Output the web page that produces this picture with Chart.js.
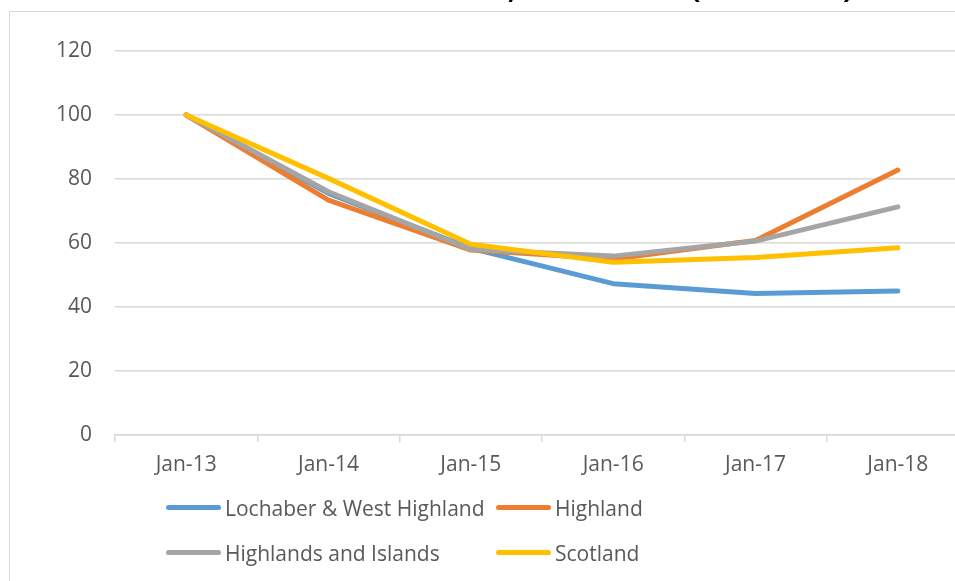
<!DOCTYPE html>
<html>
<head>
<meta charset="utf-8">
<script src="https://cdn.jsdelivr.net/npm/chart.js@4"></script>
<style>
  html, body { margin: 0; padding: 0; background: #fff; overflow: hidden; width: 955px; height: 581px; }
  #frame { position: absolute; left: 9px; top: 11px; width: 1100px; height: 700px; border-left: 1.5px solid #d9d9d9; border-top: 1.5px solid #d9d9d9; }
  #chartBox { position: absolute; left: 0; top: 0; }
  #legend { position: absolute; left: 166px; top: 485px; font-family: "Open Sans", sans-serif; font-size: 21px; color: #595959; }
  .row { display: flex; height: 45px; align-items: center; }
  .item { display: flex; align-items: center; }
  .item.first { width: 330px; }
  .swatch { width: 55px; height: 5px; border-radius: 3px; margin-right: 4px; }
</style>
</head>
<body>
<div id="frame"></div>
<canvas id="myChart" width="980" height="581"></canvas>
<div id="legend"></div>
<script>
let categories = ['Jan-13', 'Jan-14', 'Jan-15', 'Jan-16', 'Jan-17', 'Jan-18'];
let lochaber = [100, 75.5, 58.3, 47.3, 44.2, 45];
let highland = [100, 73.4, 57.8, 55, 60.8, 82.8];
let highlandsIslands = [100, 76, 58, 55.9, 60.6, 71.3];
let scotland = [100, 80.2, 59.6, 54, 55.5, 58.5];
let seriesNames = ['Lochaber & West Highland', 'Highland', 'Highlands and Islands', 'Scotland'];
let seriesColors = ['#5B9BD5', '#ED7D31', '#A5A5A5', '#FFC000'];
let yTicks = [0, 20, 40, 60, 80, 100, 120];

// bits of the cut-off title above the chart frame
let titleBits = [[',', 508], ['(', 691], [')', 843]];

const titleBitsPlugin = {
  id: 'titleBits',
  afterDraw(chart) {
    let ctx = chart.ctx;
    ctx.save();
    ctx.fillStyle = '#000';
    ctx.font = 'bold 28px "Open Sans"';
    ctx.textBaseline = 'alphabetic';
    titleBits.forEach(([ch, x]) => ctx.fillText(ch, x, -2.5));
    ctx.restore();
  }
};

function renderLegend() {
  let legend = document.getElementById('legend');
  for (let r = 0; r < 2; r++) {
    let row = document.createElement('div');
    row.className = 'row';
    for (let c = 0; c < 2; c++) {
      let i = r * 2 + c;
      let item = document.createElement('div');
      item.className = 'item' + (c === 0 ? ' first' : '');
      let sw = document.createElement('div');
      sw.className = 'swatch';
      sw.style.background = seriesColors[i];
      let label = document.createElement('span');
      label.textContent = seriesNames[i];
      item.appendChild(sw);
      item.appendChild(label);
      row.appendChild(item);
    }
    legend.appendChild(row);
  }
}

function renderChart() {
  const ctx = document.getElementById('myChart');
  let allData = [lochaber, highland, highlandsIslands, scotland];
  let datasets = allData.map((d, i) => ({
    label: seriesNames[i],
    data: d,
    borderColor: seriesColors[i],
    backgroundColor: seriesColors[i],
    borderWidth: 5,
    borderCapStyle: 'round',
    borderJoinStyle: 'round',
    pointRadius: 0,
    tension: 0,
    order: 4 - i,
  }));

  new Chart(ctx, {
    type: 'line',
    data: { labels: categories, datasets: datasets },
    plugins: [titleBitsPlugin],
    options: {
      responsive: false,
      animation: false,
      layout: { padding: { left: 0, right: 11, top: 51, bottom: 86 } },
      plugins: { legend: { display: false }, tooltip: { enabled: false } },
      scales: {
        x: {
          offset: true,
          grid: { offset: true, drawOnChartArea: false, drawTicks: true, tickLength: 7, color: '#d9d9d9', lineWidth: 1.5 },
          border: { display: true, color: '#d9d9d9', width: 1.5 },
          ticks: { color: '#595959', font: { family: 'Open Sans', size: 21 }, padding: 10, maxRotation: 0 },
          afterFit(scale) { scale.height = 60; },
        },
        y: {
          min: 0,
          max: 120,
          afterBuildTicks(scale) { scale.ticks = yTicks.map(v => ({ value: v })); },
          grid: { drawTicks: false, color: '#d9d9d9', lineWidth: 1.5 },
          border: { display: false },
          ticks: { color: '#595959', font: { family: 'Open Sans', size: 21 }, padding: 23 },
          afterFit(scale) { scale.width = 115; },
        },
      },
    },
  });
}

renderLegend();
renderChart();
</script>
</body>
</html>
